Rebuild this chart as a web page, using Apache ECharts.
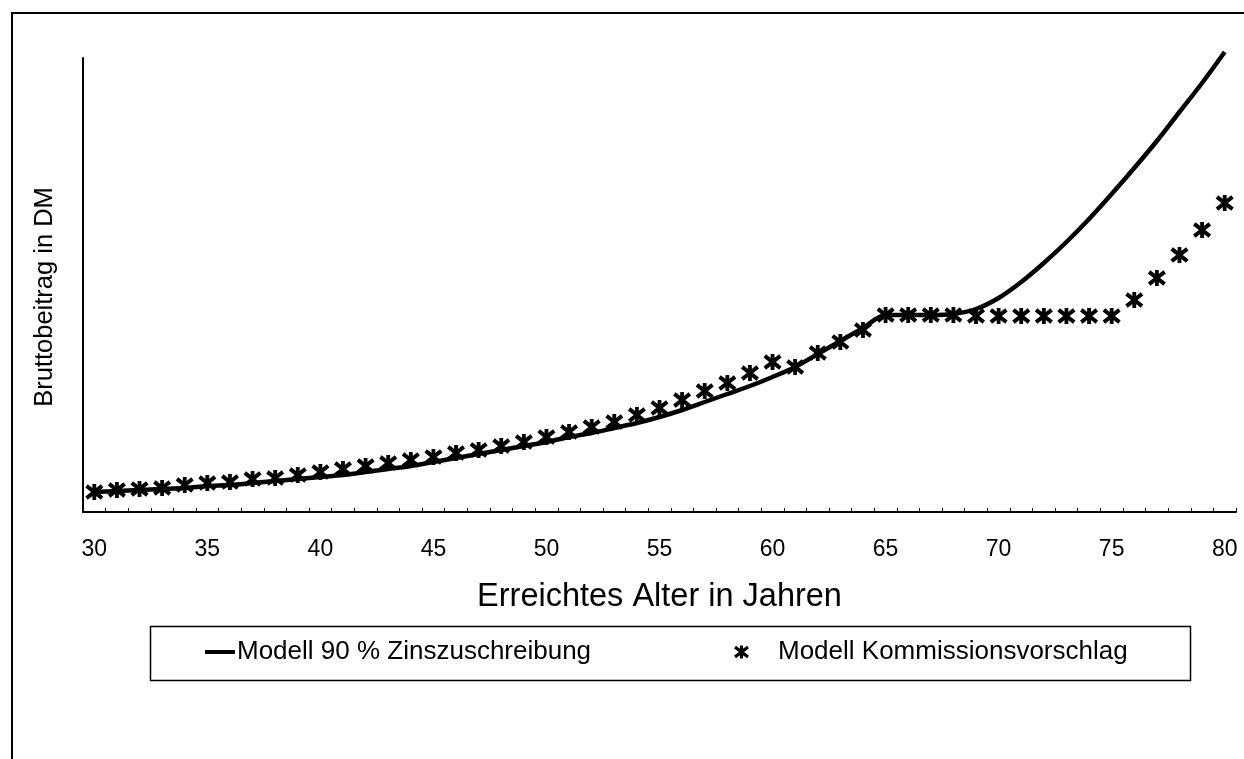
<!DOCTYPE html>
<html>
<head>
<meta charset="utf-8">
<script src="https://cdn.jsdelivr.net/npm/echarts@6/dist/echarts.min.js"></script>
<style>
html,body{margin:0;padding:0;background:#fff;}
#chart{width:1244px;height:759px;}
</style>
</head>
<body>
<div id="chart"></div>
<script>
// Ages (categories)
const ages = ['30','31','32','33','34','35','36','37','38','39','40','41','42','43','44','45','46','47','48','49','50','51','52','53','54','55','56','57','58','59','60','61','62','63','64','65','66','67','68','69','70','71','72','73','74','75','76','77','78','79','80'];
// Modell 90 % Zinszuschreibung (relative Bruttobeitrag)
const zinsValues = [20,21,22,23,24,26,27,29,31,33,35,37,40,43,46,50,54,58,62,66,70,75,79,84,89,95,102,110,118,126,135,145,158,171,184,197,197,197,198,203,214,230,249,270,293,318,344,371,400,429,460];
// Modell Kommissionsvorschlag
const kommValues = [20,22,23,24,27,29,30,33,34,37,40,43,46,49,52,55,59,62,66,70,75,80,85,90,97,104,112,121,129,139,150,145,159,170,182,197,197,197,197,196,196,196,196,196,196,196,212,234,257,282,309];

const seriesNames = ['Modell 90 % Zinszuschreibung', 'Modell Kommissionsvorschlag'];
const xTitle = 'Erreichtes Alter in Jahren';
const yTitle = 'Bruttobeitrag in DM';

const asterisk = 'path://M7.8 0L12.2 0L12.2 18L7.8 18Z M-0.41 3.81L2.41 0.19L20.41 14.19L17.59 17.81Z M17.59 0.19L20.41 3.81L2.41 17.81L-0.41 14.19Z';

const chart = echarts.init(document.getElementById('chart'), null, {renderer: 'canvas'});
const font = '"Liberation Sans", Arial, sans-serif';

chart.setOption({
  animation: false,
  backgroundColor: '#fff',
  textStyle: {fontFamily: font, color: '#000'},
  grid: {left: 83, right: 8, top: 58, bottom: 247, containLabel: false},
  xAxis: {
    type: 'category',
    data: ages,
    boundaryGap: true,
    name: xTitle,
    nameLocation: 'middle',
    nameGap: 69,
    nameTextStyle: {fontSize: 32.5, color: '#000', fontFamily: font},
    axisLine: {show: true, lineStyle: {color: '#000', width: 2}},
    axisTick: {show: true, inside: true, length: 4, interval: 0, lineStyle: {color: '#000', width: 1}},
    axisLabel: {interval: 4, fontSize: 23, color: '#000', margin: 26, fontFamily: font},
    splitLine: {show: false}
  },
  yAxis: {
    type: 'value',
    min: 0,
    max: 454,
    name: yTitle,
    nameLocation: 'middle',
    nameGap: 25,
    nameRotate: 90,
    nameTextStyle: {fontSize: 25.5, color: '#000', fontFamily: font, padding: [0, 24, 0, 0]},
    axisLine: {show: true, lineStyle: {color: '#000', width: 2}},
    axisTick: {show: false},
    axisLabel: {show: false},
    splitLine: {show: false}
  },
  legend: [
    {
      data: [{name: seriesNames[0], icon: 'rect'}],
      left: 205,
      top: 639,
      padding: 0,
      itemWidth: 30,
      itemHeight: 4,
      textStyle: {fontSize: 26, color: '#000', fontFamily: font, padding: [0,0,0,-3]}
    },
    {
      data: [{name: seriesNames[1], icon: asterisk}],
      left: 734,
      top: 639,
      padding: 0,
      itemWidth: 15,
      itemHeight: 13,
      itemStyle: {opacity: 1},
      textStyle: {fontSize: 26, color: '#000', fontFamily: font, padding: [0,0,0,24]}
    }
  ],
  graphic: [
    {type: 'rect', shape: {x: 12, y: 13, width: 1250, height: 770}, style: {fill: 'none', stroke: '#000', lineWidth: 2}, silent: true},
    {type: 'rect', shape: {x: 150.5, y: 626.5, width: 1040, height: 54}, style: {fill: 'none', stroke: '#000', lineWidth: 1.5}, silent: true}
  ],
  series: [
    {
      name: seriesNames[0],
      type: 'line',
      data: zinsValues,
      showSymbol: false,
      symbol: 'none',
      smooth: 0.3,
      clip: false,
      itemStyle: {color: '#000'},
      lineStyle: {color: '#000', width: 4.5},
      z: 2
    },
    {
      name: seriesNames[1],
      type: 'scatter',
      data: kommValues,
      symbol: asterisk,
      symbolSize: [18, 16],
      clip: false,
      itemStyle: {color: '#000', opacity: 1},
      z: 3
    }
  ]
});
</script>
</body>
</html>
